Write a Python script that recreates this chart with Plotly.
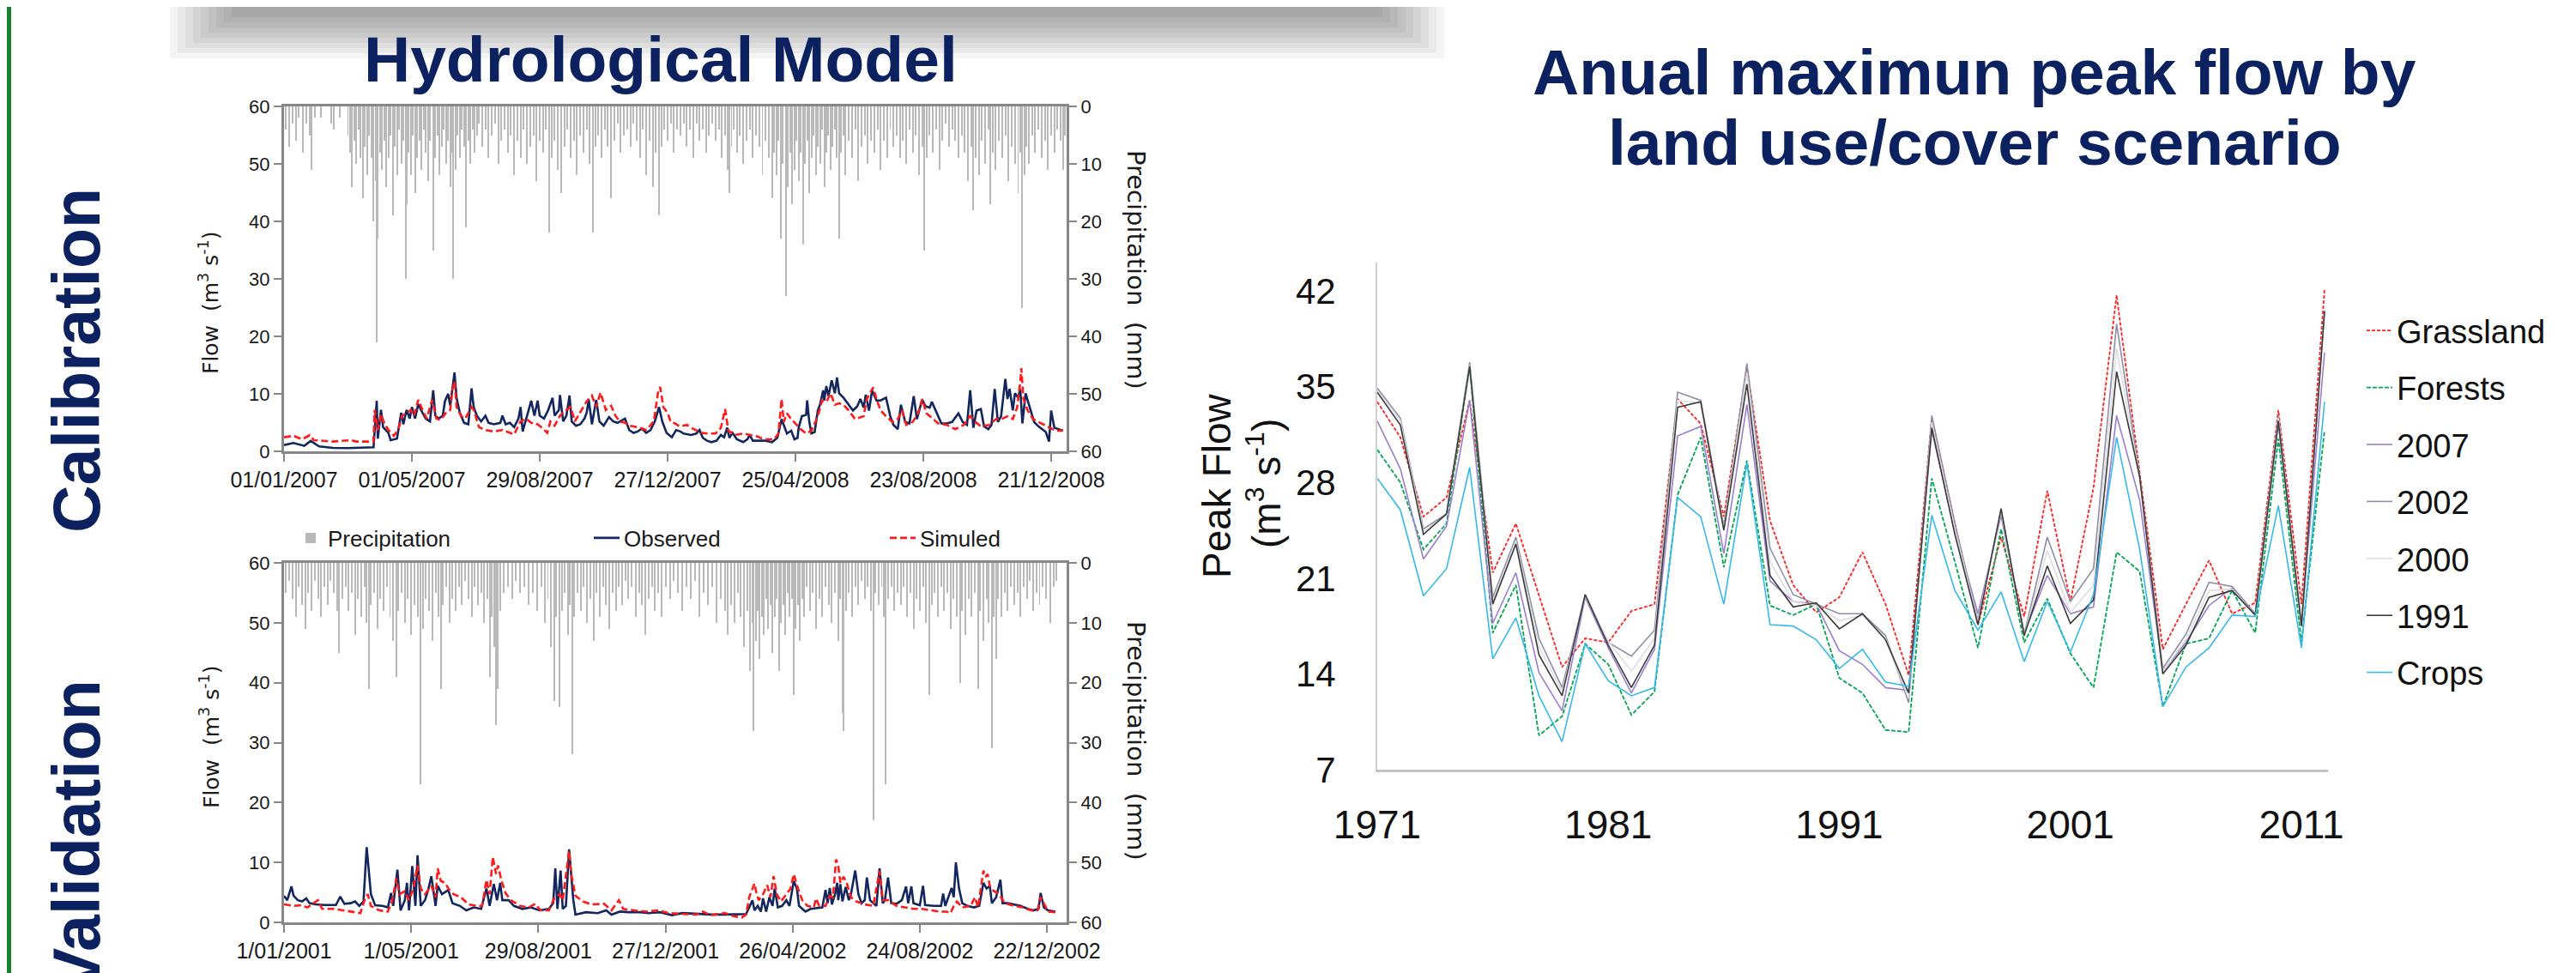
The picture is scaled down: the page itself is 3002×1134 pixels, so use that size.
import plotly.graph_objects as go
import pandas as pd

# ---------------- DATA ----------------
cal_start = "2007-01-01"
val_start = "2001-01-01"

cal_tick_dates = ["2007-01-01", "2007-05-01", "2007-08-29", "2007-12-27", "2008-04-25", "2008-08-23", "2008-12-21"]
cal_tick_text = ["01/01/2007", "01/05/2007", "29/08/2007", "27/12/2007", "25/04/2008", "23/08/2008", "21/12/2008"]
val_tick_dates = ["2001-01-01", "2001-05-01", "2001-08-29", "2001-12-27", "2002-04-26", "2002-08-24", "2002-12-22"]
val_tick_text = ["1/01/2001", "1/05/2001", "29/08/2001", "27/12/2001", "26/04/2002", "24/08/2002", "22/12/2002"]
flow_ticks = [0, 10, 20, 30, 40, 50, 60]

# (day since start, flow m3/s)
cal_obs = [(0,1.1),(9,1.45),(19,0.95),(25,1.8),(33,0.85),(46,0.6),(60,0.55),(73,0.6),(84,0.7),(87,8.8),(88,2.2),(91,7.2),(93,4.2),(98,3.2),(100,1.95),(106,2.2),(108,4.2),(110,6.7),(112,4.7),(115,7.2),(118,5.7),(120,7.7),(123,5.7),(126,8.2),(130,6.7),(133,5.7),(137,5.2),(140,10.6),(142,6.2),(145,5.7),(149,6.2),(151,8.7),(154,10.0),(156,7.95),(157,9.45),(160,13.7),(162,9.2),(165,6.7),(169,4.95),(173,4.7),(176,10.95),(178,7.7),(181,6.2),(185,5.2),(189,6.2),(192,4.95),(197,4.7),(203,4.95),(205,6.2),(208,4.7),(212,4.95),(216,4.2),(220,5.7),(222,7.7),(224,3.45),(228,6.2),(232,8.8),(235,6.2),(238,8.8),(240,6.2),(244,5.7),(248,7.2),(252,9.3),(254,6.2),(258,7.2),(259,9.8),(262,5.2),(265,6.2),(268,9.7),(270,5.2),(274,4.45),(278,4.7),(282,5.7),(284,6.7),(286,8.95),(289,4.7),(293,8.95),(296,5.2),(300,4.45),(305,5.95),(309,5.2),(313,4.95),(320,5.7),(324,3.7),(328,3.2),(332,3.45),(336,3.95),(340,3.2),(344,3.7),(348,5.2),(352,7.7),(355,5.2),(359,3.2),(364,2.45),(368,3.7),(372,3.45),
           (375,3.1),(382,2.85),(387,3.1),(390,3.7),(393,2.35),(397,1.85),(401,1.6),(406,1.85),(410,2.85),(413,2.45),(416,4.1),(418,2.35),(421,3.2),(425,2.1),(431,1.6),(435,2.1),(437,2.85),(440,1.85),(447,1.85),(452,1.85),(458,1.6),(463,2.35),(467,5.6),(470,4.1),(472,3.1),(476,3.6),(479,2.1),(482,2.35),(483,4.1),(486,6.1),(490,6.35),(491,8.85),(493,5.1),(495,3.1),(498,3.35),(501,7.1),(503,8.1),(506,10.6),(507,8.85),(509,11.35),(511,9.6),(514,12.35),(517,10.1),(519,12.85),(521,10.1),(525,9.35),(530,8.1),(534,7.1),(538,7.85),(541,9.1),(544,7.6),(546,9.85),(549,7.1),(552,10.6),(556,8.85),(560,8.85),(565,9.35),(569,6.1),(572,4.6),(576,3.85),(579,8.1),(583,5.1),(587,4.85),(591,9.6),(594,5.6),(596,7.1),(599,9.0),(602,7.85),(606,7.6),(608,8.6),(613,6.6),(617,4.85),(622,4.85),(627,5.1),(633,6.6),(637,5.1),(641,4.6),(644,10.6),(647,4.1),(650,7.1),(654,7.35),(657,4.35),(661,3.85),(664,4.6),(667,10.85),(670,5.1),(673,6.1),(677,12.6),(679,9.1),(681,10.85),(684,7.1),(686,10.1),(689,9.35),(691,10.85),(693,4.85),(696,10.1),(700,7.6),(704,5.1),(708,4.35),(715,3.35),(718,1.7),(720,7.1),(723,4.1),(727,3.85),(731,3.6)]

cal_sim = [(0,2.45),(9,2.7),(17,2.1),(24,2.8),(28,1.95),(46,1.7),(63,1.95),(68,1.7),(84,1.7),(85,7.2),(88,3.7),(91,6.45),(94,4.95),(98,3.7),(103,2.7),(107,3.7),(111,6.2),(115,6.7),(119,7.2),(122,6.2),(126,8.95),(130,7.2),(134,5.7),(139,8.95),(143,5.7),(147,5.45),(152,6.7),(156,7.2),(158,10.7),(160,12.2),(162,7.7),(166,6.2),(170,5.7),(176,7.7),(178,7.2),(183,4.2),(189,3.7),(197,3.45),(205,3.7),(216,2.95),(222,5.2),(227,5.7),(232,4.95),(238,4.7),(243,3.95),(247,3.2),(250,5.2),(254,4.45),(259,6.2),(265,7.2),(269,7.7),(273,5.2),(278,6.7),(284,8.7),(289,9.7),(293,7.7),(297,10.2),(302,7.2),(307,7.95),(311,6.2),(315,5.2),(320,4.95),(325,4.45),(332,4.2),(340,3.7),(347,5.2),(351,10.2),(353,11.2),(356,7.7),(360,6.7),(363,5.1),(367,4.85),(371,4.35),(378,4.6),(382,4.1),(388,3.6),(392,3.2),(398,3.1),(405,3.1),(410,4.1),(414,7.35),(417,3.6),(423,2.85),(431,3.1),(437,2.85),(444,2.6),(450,2.1),(455,2.1),(460,2.1),(464,3.1),(467,9.1),(469,5.1),(472,6.6),(476,5.6),(481,4.6),(485,3.85),(490,3.1),(495,3.6),(501,6.1),(505,8.85),(509,8.6),(513,10.1),(517,8.1),(521,8.35),(525,8.1),(530,7.1),(536,5.6),(544,6.1),(547,9.1),(551,10.6),(553,11.1),(556,9.1),(560,7.1),(565,6.1),(571,5.1),(576,5.6),(580,7.1),(584,4.6),(590,5.1),(595,6.6),(599,9.1),(603,6.6),(609,5.6),(614,4.85),(622,4.6),(630,3.85),(638,4.6),(644,6.1),(649,5.1),(654,4.35),(662,4.6),(668,5.6),(673,5.6),(679,6.1),(684,5.6),(688,7.6),(691,12.1),(692,14.45),(694,9.1),(698,7.1),(703,5.6),(708,5.1),(714,4.6),(719,4.1),(724,3.6),(731,3.6)]

val_obs = [(0,4.45),(3,3.7),(7,6.0),(9,4.45),(13,3.7),(17,3.5),(21,4.0),(24,3.2),(30,3.0),(38,2.9),(49,2.9),(53,4.3),(57,3.1),(63,3.2),(67,3.5),(71,2.75),(75,3.5),(78,12.56),(82,4.7),(86,2.85),(93,2.75),(98,2.5),(101,4.9),(103,2.75),(107,8.8),(110,2.0),(114,3.7),(116,6.6),(118,2.0),(121,9.4),(124,2.75),(126,11.2),(129,2.75),(133,3.7),(136,5.4),(139,7.7),(143,2.75),(145,6.1),(149,4.7),(155,5.4),(159,3.2),(166,2.75),(172,2.0),(179,2.5),(186,2.25),(191,5.65),(194,2.75),(198,6.4),(201,3.7),(204,6.6),(206,3.7),(212,3.7),(217,2.75),(225,2.25),(233,2.5),(241,2.0),(250,2.25),(254,3.2),(256,9.0),(258,2.25),(261,8.65),(263,2.25),(266,2.75),(269,12.2),(273,3.7),(275,1.3),(285,1.7),(296,1.55),(304,2.0),(309,1.3),(317,1.8),(325,1.7),(336,1.7),(344,1.55),(355,1.7),(366,1.2),(376,1.55),(389,1.4),(403,1.3),(416,1.3),(430,1.3),(436,1.4),(439,2.5),(442,3.7),(444,2.0),(447,2.75),(450,1.8),(452,4.0),(455,1.8),(458,4.2),(461,2.75),(463,5.65),(466,2.5),(470,2.75),(474,3.7),(477,2.75),(481,6.9),(484,5.65),(486,2.75),(492,1.8),(497,2.25),(502,2.35),(508,2.5),(511,5.4),(513,3.2),(515,5.75),(517,3.0),(520,4.7),(522,6.6),(523,3.7),(525,6.4),(527,3.5),(530,5.9),(533,3.7),(535,4.7),(539,8.65),(542,4.7),(545,3.2),(548,3.7),(550,7.5),(553,3.7),(559,2.75),(562,9.0),(565,3.2),(567,3.7),(570,7.5),(573,3.2),(578,3.1),(583,3.7),(587,6.0),(589,3.2),(592,6.0),(594,3.2),(600,2.85),(603,6.1),(605,2.9),(613,2.75),(620,2.75),(622,4.8),(624,2.75),(626,3.7),(630,5.75),(632,4.2),(634,10.0),(637,5.65),(640,3.2),(645,2.75),(651,2.5),(656,2.75),(660,6.6),(663,5.65),(666,6.1),(668,3.2),(672,4.2),(676,7.1),(678,3.2),(683,3.2),(689,3.0),(695,2.75),(702,2.25),(707,2.0),(712,2.25),(714,4.9),(717,2.5),(721,2.0),(728,1.8)]

val_sim = [(0,3.0),(9,2.75),(15,2.85),(22,2.5),(32,3.7),(36,2.25),(47,2.25),(55,2.0),(63,1.8),(72,1.55),(76,3.7),(79,4.7),(82,2.75),(90,2.0),(98,1.8),(102,3.5),(106,7.35),(109,4.7),(114,5.2),(118,3.7),(122,5.65),(126,9.5),(129,5.65),(133,4.7),(139,6.1),(143,4.2),(145,9.0),(148,6.9),(152,6.6),(156,5.4),(160,4.7),(167,4.2),(174,3.0),(182,2.75),(187,2.75),(191,7.1),(194,4.7),(197,10.9),(200,8.1),(202,9.5),(205,7.1),(209,4.9),(214,3.7),(223,2.75),(231,2.5),(237,3.1),(242,2.0),(250,2.0),(255,4.0),(260,4.7),(263,3.7),(269,11.9),(271,8.1),(275,4.45),(282,3.5),(290,3.0),(302,3.1),(309,2.0),(316,3.7),(320,2.25),(331,2.0),(342,1.8),(353,2.0),(363,1.55),(376,1.4),(389,1.3),(395,1.8),(403,1.2),(416,1.55),(424,1.05),(432,0.8),(436,1.3),(439,4.2),(442,5.65),(444,6.5),(446,4.7),(448,3.7),(452,4.7),(456,6.2),(459,4.2),(462,7.7),(465,4.7),(469,3.5),(474,4.7),(478,5.65),(481,8.05),(485,5.65),(489,3.7),(494,2.75),(500,2.5),(502,4.0),(505,2.75),(511,2.75),(515,4.45),(518,4.2),(521,10.5),(523,9.5),(525,6.6),(528,7.6),(531,6.6),(535,4.2),(540,3.5),(548,3.0),(556,2.75),(562,8.55),(565,3.7),(570,3.7),(578,2.75),(586,2.5),(594,2.25),(602,2.25),(610,2.0),(618,1.8),(625,1.8),(629,1.55),(632,2.75),(635,3.5),(640,2.5),(648,2.75),(652,4.2),(655,2.5),(660,8.65),(662,7.6),(664,8.05),(666,6.1),(670,5.2),(675,4.7),(680,3.2),(689,2.75),(697,2.5),(705,2.0),(711,2.0),(714,4.2),(717,3.2),(721,1.8),(728,1.7)]

# (day since start, precipitation mm)
cal_rain = [(2,4),(5,7),(8,3),(11,6),(14,2),(18,8),(21,3),(24,5),(26,11),(29,2),(35,2),(44,3),(47,4),(52,2),
            (60,5),(62,8),(64,14),(66,6),(68,10),(70,4),(72,9),(74,16),(76,7),(78,12),(80,5),(82,9),(84,20),(86,13),(87,41),(88,23),(90,8),(92,11),(94,6),(96,14),
            (98,9),(100,5),(102,19),(104,7),(106,12),(108,4),(110,10),(112,6),(114,30),(115,17),(117,8),(119,12),(121,5),(123,15),(125,9),(127,6),(129,11),(131,4),(133,8),(135,13),(137,6),(140,25),(142,9),(144,5),(146,12),(148,7),(150,4),(152,10),(154,6),(156,14),(158,8),(159,30),(161,11),(163,5),(165,9),(167,4),(169,7),(171,21),(173,6),(175,10),(177,4),(179,8),(181,5),(183,3),(186,7),(189,4),(192,9),(195,5),(198,3),(201,10),(204,6),(207,4),
            (210,8),(213,5),(216,12),(219,6),(222,9),(225,4),(228,10),(231,7),(234,5),(237,13),(240,6),(243,8),(246,4),(249,22),(251,9),(254,6),(257,11),(260,15),(263,7),(266,4),(269,9),(272,6),(275,12),(278,5),(281,8),(284,4),(287,10),(290,22),(292,7),(295,5),(298,9),(301,4),(304,7),(307,16),(310,6),(313,3),(316,8),(319,5),(322,4),(325,7),(328,3),(331,6),(334,9),(337,4),(340,12),(343,6),(346,14),(349,8),(352,19),(354,7),(357,4),(360,6),(363,3),(366,8),(369,4),(372,5),(375,3),(378,7),(381,4),(384,9),(387,3),(390,6),(393,4),(396,8),(399,5),(402,3),(405,6),(408,4),
            (411,9),(414,5),(416,11),(418,15),(420,7),(422,4),(425,8),(428,5),(431,10),(434,6),(437,4),(440,9),(443,5),(446,7),(449,12),(452,6),(455,9),(458,16),(460,8),(462,12),(464,6),(466,23),(468,10),(471,33),(473,14),(475,8),(477,17),(479,11),(481,6),(483,13),(485,8),(487,24),(489,10),(491,6),(493,15),(495,9),(497,5),(499,12),(501,7),(503,10),(505,4),(507,14),(509,8),(511,5),(513,11),(515,7),(517,4),(519,9),(521,23),(523,8),(525,5),(527,12),(530,6),(533,9),(536,4),(539,13),(542,7),(545,5),(548,10),(551,6),(554,8),(557,4),(560,11),(563,6),(566,9),(569,4),(572,7),(575,5),(578,9),
            (581,6),(584,10),(587,4),(590,8),(593,5),(596,12),(599,7),(601,25),(603,9),(606,5),(609,8),(612,4),(615,11),(618,6),(621,3),(624,7),(627,4),(630,6),(633,9),(636,5),(639,8),(642,13),(645,7),(647,18),(649,9),(652,12),(655,6),(658,10),(661,4),(663,17),(665,8),(668,11),(671,6),(674,9),(677,5),(680,13),(683,7),(686,10),(689,15),(691,8),(693,35),(695,12),(697,7),(699,10),(702,5),(705,8),(708,4),(711,9),(714,6),(717,11),(720,5),(723,8),(726,4),(729,6),(731,11),(733,5)]

val_rain = [(2,5),(5,3),(8,6),(11,9),(14,4),(17,7),(20,11),(23,5),(26,8),(29,3),(32,6),(35,9),(38,4),(41,7),(44,3),(47,5),(50,8),(52,15),(55,6),(58,4),
            (61,8),(64,5),(67,12),(70,6),(73,9),(76,4),(78,10),(80,21),(82,7),(85,5),(88,11),(91,6),(94,8),(97,4),(100,9),(103,13),(106,19),(108,8),(111,5),(114,10),(117,6),(120,12),(123,7),(126,9),(129,37),(131,11),(134,6),(137,8),(140,13),(143,5),(146,9),(148,21),(150,7),(153,4),(156,10),(159,6),(162,8),(165,4),(168,7),(171,3),(174,6),(177,9),(180,4),(183,7),(186,5),(189,10),(192,6),(194,19),(196,9),(198,14),(200,27),(202,21),(204,8),(207,5),
            (211,4),(215,6),(219,3),(223,5),(227,4),(231,7),(235,5),(239,8),(243,4),(246,10),(249,6),(252,14),(255,23),(257,9),(260,24),(262,8),(265,5),(268,12),(270,7),(272,32),(274,9),(277,5),(280,8),(283,4),(286,10),(289,6),(292,13),(295,5),(298,9),(301,4),(304,7),(307,11),(310,5),(313,8),(316,4),(319,7),(322,3),(325,6),(328,4),
            (332,9),(335,5),(338,7),(341,12),(344,6),(347,4),(350,8),(353,5),(356,9),(360,4),(364,6),(368,3),(372,5),(376,8),(380,4),(384,6),(388,3),(392,9),(396,5),(400,7),(404,4),(408,10),(412,6),(416,8),
            (419,12),(422,7),(425,10),(428,5),(431,9),(434,14),(437,8),(440,18),(442,10),(443,28),(445,13),(447,8),(449,16),(451,9),(453,12),(455,6),(457,11),(459,7),(461,15),(463,9),(465,6),(467,18),(469,10),(471,7),(473,12),(475,5),(477,9),(479,6),(481,22),(483,11),(485,7),(487,13),(489,6),(491,9),(493,4),(496,8),(499,5),(502,11),(505,6),(508,9),(511,4),(514,7),(517,10),(520,5),(523,13),(525,6),(527,25),(528,28),(530,8),(533,5),(536,9),(539,4),(542,7),(545,3),(548,6),(551,4),(554,8),(556,43),(558,5),(561,7),(564,4),(566,9),(568,37),(570,6),(573,4),(576,8),(579,5),
            (582,7),(585,4),(588,9),(591,5),(594,11),(597,6),(600,8),(603,4),(606,10),(609,22),(611,7),(614,5),(617,9),(620,4),(623,8),(626,5),(629,11),(632,6),(635,9),(638,20),(640,8),(643,12),(646,6),(649,9),(652,5),(655,21),(657,8),(660,13),(663,6),(665,10),(668,31),(670,9),(672,16),(674,6),(677,9),(680,5),(683,8),(686,4),(689,7),(692,5),(695,9),(698,4),(701,6),(704,3),(707,8),(710,5),(713,7),(716,4),(719,6),(723,10),(726,4),(729,3)]

# Annual maximum peak flow by scenario
years = list(range(1971, 2013))
year_ticks = [1971, 1981, 1991, 2001, 2011]
peak_ticks = [7, 14, 21, 28, 35, 42]
grassland = [33.9,31.3,25.5,26.9,34.0,21.4,25.0,19.7,14.5,16.6,16.3,18.6,19.1,34.1,32.3,25.5,36.4,25.2,20.5,18.5,19.6,22.9,19.1,13.9,32.7,25.0,17.6,24.0,18.2,27.4,19.3,27.6,41.7,28.7,15.8,19.1,22.3,18.4,19.2,33.3,19.1,42.1]
forests = [30.4,28.0,23.1,25.0,36.5,17.0,20.5,9.5,10.9,16.2,14.7,11.0,12.7,27.1,31.3,21.8,29.6,19.0,18.3,19.1,13.7,12.6,9.9,9.75,28.3,22.2,15.9,24.6,16.3,19.5,15.5,13.0,22.9,21.5,11.6,16.2,16.6,20.1,17.0,31.2,16.3,31.8]
s2007 = [32.5,29.0,22.4,24.8,34.0,17.7,21.4,14.1,11.3,19.6,15.9,12.6,15.8,31.4,32.1,22.8,33.7,20.8,19.3,19.1,15.7,14.7,13.0,12.8,31.8,24.5,18.4,25.6,17.0,21.2,18.4,18.9,32.9,26.7,14.2,16.3,19.0,20.3,18.3,32.3,17.6,37.5]
s2002 = [34.9,32.7,24.6,25.7,36.8,19.6,24.0,16.6,13.0,19.8,16.3,15.3,17.2,34.6,34.0,24.8,36.7,23.2,19.8,19.1,18.4,18.4,16.8,11.9,32.9,25.0,17.9,25.9,16.9,24.0,19.3,21.7,39.6,28.4,14.4,16.9,20.7,20.4,18.4,32.9,17.5,40.6]
s2000 = [34.7,32.5,24.4,25.6,36.6,19.3,23.7,16.0,12.7,19.7,16.4,14.2,16.6,34.0,33.8,24.6,36.0,22.2,19.3,19.0,17.9,18.3,16.6,12.2,32.4,24.6,17.8,26.0,16.8,23.0,18.5,20.5,37.8,28.3,14.2,16.5,20.1,20.2,18.3,32.7,17.5,40.5]
s1991 = [34.6,32.2,24.2,25.7,36.5,19.1,23.5,15.4,12.4,19.8,16.1,13.0,16.1,33.5,33.9,24.5,35.2,21.2,18.9,19.2,17.3,18.4,16.5,12.6,32.0,24.2,17.6,26.1,16.8,21.9,17.7,19.4,36.1,28.4,14.0,16.1,19.6,20.1,18.3,32.5,17.5,40.5]
crops = [28.3,26.0,19.7,21.7,29.1,15.1,18.1,12.4,9.05,16.2,13.5,12.4,13.0,26.9,25.5,19.1,29.4,17.6,17.5,16.5,14.4,15.8,13.4,13.1,25.6,20.1,17.2,20.0,14.9,19.3,15.6,19.8,31.3,23.1,11.6,14.5,15.9,18.3,18.2,26.3,15.9,33.9]

# ---------------- STYLE / LAYOUT HELPERS ----------------
W, H = 3002, 1134
def fx(p):
    return p / W
def fy(p):
    return 1 - p / H

NAVY = "#0c2260"
AX = "#878787"
OBS = "#13275e"
RAIN = "#b9b9b9"
TICKF = dict(family="Liberation Sans, Arial", size=22, color="#1a1a1a")


def to_dates(start, pairs):
    s = pd.Timestamp(start)
    return [s + pd.Timedelta(days=d) for d, _ in pairs], [v for _, v in pairs]


fig = go.Figure()

# ---- Calibration chart ----
d, v = to_dates(cal_start, cal_rain)
fig.add_trace(go.Bar(x=d, y=v, xaxis="x", yaxis="y", width=0.8 * 86400000,
                     marker=dict(color=RAIN, line=dict(width=0)), name="Precipitation",
                     legend="legend"))
d, v = to_dates(cal_start, cal_obs)
fig.add_trace(go.Scatter(x=d, y=v, xaxis="x", yaxis="y2", mode="lines", name="Observed",
                         line=dict(color=OBS, width=2.6), legend="legend"))
d, v = to_dates(cal_start, cal_sim)
fig.add_trace(go.Scatter(x=d, y=v, xaxis="x", yaxis="y2", mode="lines", name="Simuled",
                         line=dict(color="#ff1a1a", width=2.6, dash="8px,4px"), legend="legend"))

# ---- Validation chart ----
d, v = to_dates(val_start, val_rain)
fig.add_trace(go.Bar(x=d, y=v, xaxis="x2", yaxis="y3", width=0.8 * 86400000,
                     marker=dict(color=RAIN, line=dict(width=0)), showlegend=False))
d, v = to_dates(val_start, val_obs)
fig.add_trace(go.Scatter(x=d, y=v, xaxis="x2", yaxis="y4", mode="lines", showlegend=False,
                         line=dict(color=OBS, width=2.6)))
d, v = to_dates(val_start, val_sim)
fig.add_trace(go.Scatter(x=d, y=v, xaxis="x2", yaxis="y4", mode="lines", showlegend=False,
                         line=dict(color="#ff1a1a", width=2.6, dash="8px,4px")))

# ---- Peak flow chart ----
series = [
    ("Grassland", grassland, "#ff2020", "4px,2px", 1.8),
    ("Forests", forests, "#00a651", "5px,2px", 1.8),
    ("2007", s2007, "#9b7fcf", "solid", 1.6),
    ("2002", s2002, "#8e8ea6", "solid", 1.6),
    ("2000", s2000, "#dedede", "solid", 1.6),
    ("1991", s1991, "#3a3a3a", "solid", 1.6),
    ("Crops", crops, "#35b8ea", "solid", 1.6),
]
for name, vals, col, dash, w in series:
    fig.add_trace(go.Scatter(x=years, y=vals, xaxis="x3", yaxis="y5", mode="lines", name=name,
                             line=dict(color=col, width=w, dash=dash), legend="legend2",
                             legendgroup=name))

# ---------------- AXES ----------------
cal_dom_x = [fx(323), fx(1235)]
cal_dom_y = [fy(518), fy(116)]
val_dom_y = [fy(1067), fy(648)]

def date_axis(rng, tv, tt, anchor, dom):
    return dict(domain=dom, anchor=anchor, type="date", range=rng, tickmode="array",
                tickvals=tv, ticktext=tt, showline=True, linecolor=AX, linewidth=3, mirror=True,
                ticks="outside", ticklen=9, tickwidth=2, tickcolor=AX, showgrid=False,
                zeroline=False, tickfont=dict(family="Liberation Sans, Arial", size=25, color="#1a1a1a"),
                automargin=False)

def val_axis(dom, anchor, side, rng, overlay=None):
    d = dict(domain=dom, anchor=anchor, side=side, range=rng, tickmode="array",
             tickvals=flow_ticks, showline=True, linecolor=AX, linewidth=3, ticks="outside",
             ticklen=9, tickwidth=2, tickcolor=AX, showgrid=False, zeroline=False,
             tickfont=TICKF, automargin=False)
    if overlay:
        d["overlaying"] = overlay
    return d

layout = dict(
    width=W, height=H, margin=dict(l=0, r=0, t=0, b=0),
    paper_bgcolor="white", plot_bgcolor="rgba(0,0,0,0)",
    bargap=0, showlegend=True,
    xaxis=date_axis(["2007-01-01", "2009-01-04 12:00"], cal_tick_dates, cal_tick_text, "y", cal_dom_x),
    yaxis=val_axis(cal_dom_y, "x", "right", [60, 0]),
    yaxis2=val_axis(cal_dom_y, "x", "left", [0, 60], overlay="y"),
    xaxis2=date_axis(["2001-01-01", "2003-01-09 12:00"], val_tick_dates, val_tick_text, "y3", cal_dom_x),
    yaxis3=val_axis(val_dom_y, "x2", "right", [60, 0]),
    yaxis4=val_axis(val_dom_y, "x2", "left", [0, 60], overlay="y3"),
    xaxis3=dict(domain=[fx(1597), fx(2705)], anchor="y5", range=[1971, 2012.15],
                tickmode="array", tickvals=year_ticks, ticktext=[str(t) for t in year_ticks],
                showline=True, linecolor="#c4c4c4", linewidth=3, ticks="", showgrid=False,
                zeroline=False, ticklabelstandoff=22,
                tickfont=dict(family="Liberation Sans, Arial", size=46, color="#111"), automargin=False),
    yaxis5=dict(domain=[fy(889), fy(298)], anchor="x3", range=[7, 44.08], tickmode="array",
                tickvals=peak_ticks, showline=True, linecolor="#d0d0d0", linewidth=2, ticks="",
                showgrid=False, zeroline=False, ticklabelstandoff=38,
                tickfont=dict(family="Liberation Sans, Arial", size=42, color="#111"), automargin=False),
    legend=dict(orientation="h", x=fx(334), y=fy(619), xanchor="left", yanchor="middle",
                font=dict(family="Liberation Sans, Arial", size=26, color="#1a1a1a"),
                entrywidth=300, bgcolor="rgba(0,0,0,0)", traceorder="normal"),
    legend2=dict(orientation="v", x=fx(2745), y=fy(346), xanchor="left", yanchor="top",
                 font=dict(family="Liberation Sans, Arial", size=38, color="#111"),
                 tracegroupgap=14, bgcolor="rgba(0,0,0,0)", traceorder="grouped"),
)
fig.update_layout(**layout)

# ---------------- DECORATION ----------------
shapes = []
for k in range(9):
    shapes.append(dict(type="rect", xref="paper", yref="paper", layer="below",
                       x0=fx(190 + k * 9), x1=fx(1675 - k * 9), y0=fy(60 - k * 6), y1=1,
                       fillcolor="rgba(0,0,0,0.042)", line=dict(width=0)))
shapes.append(dict(type="rect", xref="paper", yref="paper", x0=0, x1=fx(5), y0=0, y1=1,
                   fillcolor="#16822b", line=dict(width=0)))
fig.update_layout(shapes=shapes)

ann = []
ann.append(dict(text="<b>Hydrological Model</b>", x=fx(762), y=fy(61), xref="paper", yref="paper",
                showarrow=False, xanchor="center", yanchor="middle",
                font=dict(family="Liberation Sans, Arial", size=75, color=NAVY)))
ann.append(dict(text="<b>Anual maximun peak flow by</b>", x=fx(2293), y=fy(76), xref="paper", yref="paper",
                showarrow=False, xanchor="center", yanchor="middle",
                font=dict(family="Liberation Sans, Arial", size=75, color=NAVY)))
ann.append(dict(text="<b>land use/cover scenario</b>", x=fx(2293), y=fy(158), xref="paper", yref="paper",
                showarrow=False, xanchor="center", yanchor="middle",
                font=dict(family="Liberation Sans, Arial", size=75, color=NAVY)))
ann.append(dict(text="<b>Calibration</b>", x=fx(81), y=fy(412), xref="paper", yref="paper",
                showarrow=False, textangle=-90, xanchor="center", yanchor="middle",
                font=dict(family="Liberation Sans, Arial", size=77, color=NAVY)))
ann.append(dict(text="<b>Validation</b>", x=fx(81), y=fy(966), xref="paper", yref="paper",
                showarrow=False, textangle=-90, xanchor="center", yanchor="middle",
                font=dict(family="Liberation Sans, Arial", size=77, color=NAVY)))
for yc in (345, 851):
    ann.append(dict(text="Flow  (m<sup>3</sup> s<sup>-1</sup>)", x=fx(236), y=fy(yc), xref="paper", yref="paper",
                    showarrow=False, textangle=-90, xanchor="center", yanchor="middle",
                    font=dict(family="DejaVu Sans", size=25, color="#1a1a1a")))
for yc in (306, 855):
    ann.append(dict(text="Precipitation  (mm)", x=fx(1316), y=fy(yc), xref="paper", yref="paper",
                    showarrow=False, textangle=90, xanchor="center", yanchor="middle",
                    font=dict(family="DejaVu Sans", size=29, color="#1a1a1a")))
ann.append(dict(text="<b>dd/mm/yyyy</b>", x=fx(800), y=fy(1125), xref="paper", yref="paper",
                showarrow=False, xanchor="center", yanchor="top",
                font=dict(family="Liberation Sans, Arial", size=26, color="#1a1a1a")))
ann.append(dict(text="Peak Flow", x=fx(1410), y=fy(558), xref="paper", yref="paper",
                showarrow=False, textangle=-90, xanchor="center", yanchor="middle",
                font=dict(family="Liberation Sans, Arial", size=46, color="#111")))
ann.append(dict(text="(m<sup>3</sup> s<sup>-1</sup>)", x=fx(1465), y=fy(556), xref="paper", yref="paper",
                showarrow=False, textangle=-90, xanchor="center", yanchor="middle",
                font=dict(family="Liberation Sans, Arial", size=46, color="#111")))
fig.update_layout(annotations=ann)

fig.write_html("out.html")
